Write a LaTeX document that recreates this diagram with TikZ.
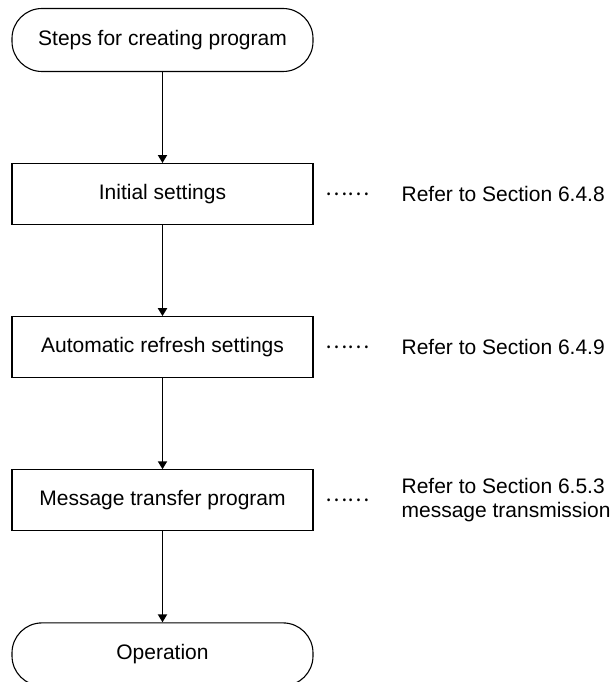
\documentclass[tikz,border=0pt]{standalone}
\usepackage{fontspec}
\setmainfont{Liberation Sans}
\newfontfamily\dotsfont{Noto Sans CJK JP}
\usetikzlibrary{arrows.meta,positioning}
\tikzset{
  fbox/.style={draw, line width=1.1pt, align=center, inner sep=0pt,
               minimum width=301pt, minimum height=61pt,
               font=\fontsize{21}{25}\selectfont},
  nterm/.style={fbox, rounded corners=30pt, minimum height=63pt},
  nstep/.style={fbox},
  ndots/.style={inner sep=0pt, font=\dotsfont\fontsize{21}{25}\selectfont},
  nnote/.style={inner sep=0pt, align=left, font=\fontsize{21}{23.5}\selectfont},
  flow/.style={-{Triangle[length=8pt,width=9pt]}, line width=1.8pt},
}
\begin{document}
\begin{tikzpicture}[node distance=91pt]
  \useasboundingbox (0,0) rectangle (614pt,-682pt);
  \node[nterm] (start) at (162.5pt,-40pt) {Steps for creating program};
  \node[nstep, below=of start] (init) {Initial settings};
  \node[nstep, below=of init] (refr) {Automatic refresh settings};
  \node[nstep, below=of refr] (prog) {Message transfer program};
  \node[nterm, below=of prog] (oper) {Operation};
  \node[ndots, right=12pt of init] (d1) {……};
  \node[ndots, right=12pt of refr] (d2) {……};
  \node[ndots, right=12pt of prog] (d3) {……};
  \node[nnote, right=31pt of d1] (r1) {Refer to Section 6.4.8};
  \node[nnote, right=31pt of d2] (r2) {Refer to Section 6.4.9};
  \node[nnote, right=31pt of d3] (r3) {Refer to Section 6.5.3\\message transmission};
  \draw[flow] (start) -- (init);
  \draw[flow] (init) -- (refr);
  \draw[flow] (refr) -- (prog);
  \draw[flow] (prog) -- (oper);
\end{tikzpicture}
\end{document}
